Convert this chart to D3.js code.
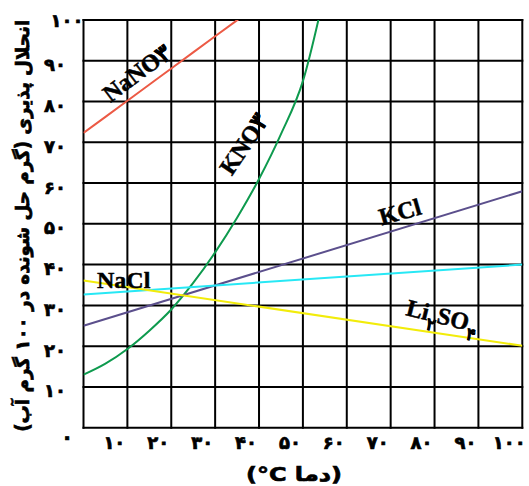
<!DOCTYPE html>
<html>
<head>
<meta charset="utf-8">
<script src="https://cdn.jsdelivr.net/npm/d3@7"></script>
<style>
  html, body { margin: 0; padding: 0; background: #fff; }
  svg { display: block; }
</style>
</head>
<body>
<script>
// DATA (temperature °C, grams per 100 g water)
const gridValues = [0, 10, 20, 30, 40, 50, 60, 70, 80, 90, 100];
const xTickLabels = ["۱۰", "۲۰", "۳۰", "۴۰", "۵۰", "۶۰", "۷۰", "۸۰", "۹۰", "۱۰۰"];
const yTickLabels = ["۱۰", "۲۰", "۳۰", "۴۰", "۵۰", "۶۰", "۷۰", "۸۰", "۹۰", "۱۰۰"];
const zeroLabel = "۰";

const nano3 = [[0, 72.3], [10, 80.2], [20, 88.1], [30, 96], [40, 103.9]];
const kno3 = [[0, 13], [5, 15.7], [10, 19.3], [15, 23.8], [20, 29], [25, 35.5], [30, 43],
              [35, 51.5], [40, 61], [45, 72], [50, 85], [55, 107]];
const kcl = [[0, 25], [100, 58]];
const nacl = [[0, 32.7], [100, 40]];
const li2so4 = [[0, 36.1], [100, 20.1]];

const yTitle = "انحلال پذیری (گرم حل شونده در ۱۰۰ گرم آب)";
const xTitle = "(دما C°)";

// SIZES
const svgwidth = 529;
const svgheight = 486;
const margin = { top: 20, right: 6.7, bottom: 58.3, left: 83.5 };
const graphwidth = svgwidth - margin.left - margin.right;
const graphheight = svgheight - margin.top - margin.bottom;

const svg = d3.select("body").append("svg")
    .attr("width", svgwidth)
    .attr("height", svgheight);

// SCALES
const X = d3.scaleLinear().domain([0, 100]).range([margin.left, margin.left + graphwidth]);
const Y = d3.scaleLinear().domain([0, 100]).range([margin.top + graphheight, margin.top]);

svg.append("clipPath").attr("id", "plot")
  .append("rect")
    .attr("x", X(0)).attr("y", Y(100))
    .attr("width", graphwidth).attr("height", graphheight);

// GRID
const grid = svg.append("g").attr("stroke", "#000").attr("stroke-width", 2);
grid.selectAll(".v").data(gridValues).enter().append("line")
    .attr("x1", d => X(d)).attr("x2", d => X(d))
    .attr("y1", Y(0) + 1).attr("y2", Y(100) - 1);
grid.selectAll(".h").data(gridValues).enter().append("line")
    .attr("y1", d => Y(d)).attr("y2", d => Y(d))
    .attr("x1", X(0) - 1).attr("x2", X(100) + 1);

// CURVES
const line = d3.line().x(d => X(d[0])).y(d => Y(d[1])).curve(d3.curveMonotoneX);
const series = [
  { data: nano3, color: "#ec5a45" },
  { data: kno3, color: "#0e9a4e" },
  { data: kcl, color: "#5b4f8c" },
  { data: nacl, color: "#27e8f5" },
  { data: li2so4, color: "#f2ec0a" }
];
svg.append("g").attr("clip-path", "url(#plot)")
  .selectAll("path").data(series).enter().append("path")
    .attr("d", d => line(d.data))
    .attr("fill", "none")
    .attr("stroke", d => d.color)
    .attr("stroke-width", 2);

// PERSIAN TEXT STYLE (made heavier with a thin stroke)
const faFont = "'DejaVu Sans', sans-serif";
const faText = sel => sel
    .attr("font-family", faFont).attr("font-weight", "bold")
    .attr("fill", "#000").attr("stroke", "#000").attr("stroke-width", 0.7);

// TICK LABELS
svg.append("g").call(faText).attr("font-size", 18)
  .selectAll("text").data(xTickLabels).enter().append("text")
    .attr("x", (d, i) => X(gridValues[i + 1]) - 13)
    .attr("y", Y(0) + 15)
    .attr("text-anchor", "middle")
    .attr("dominant-baseline", "central")
    .text(d => d);

svg.append("g").call(faText).attr("font-size", 18)
  .selectAll("text").data(yTickLabels).enter().append("text")
    .attr("x", (d, i) => i == 9 ? 67 : 55)
    .attr("y", (d, i) => Y(gridValues[i + 1]) + (i == 9 ? 0 : 4))
    .attr("text-anchor", "middle")
    .attr("dominant-baseline", "central")
    .text(d => d);

svg.append("text").call(faText).attr("font-size", 20)
    .attr("x", 67).attr("y", Y(0) + 9)
    .attr("text-anchor", "middle")
    .attr("dominant-baseline", "central")
    .text(zeroLabel);

// AXIS TITLES
svg.append("text").call(faText)
    .attr("transform", "translate(22," + (Y(50) + 2) + ") rotate(-90)")
    .attr("direction", "rtl")
    .attr("text-anchor", "middle")
    .attr("dominant-baseline", "central")
    .attr("font-size", 19)
    .attr("textLength", 412).attr("lengthAdjust", "spacingAndGlyphs")
    .text(yTitle);

svg.append("text").call(faText)
    .attr("x", 294).attr("y", 481)
    .attr("direction", "rtl")
    .attr("text-anchor", "middle")
    .attr("font-size", 20)
    .attr("textLength", 96).attr("lengthAdjust", "spacingAndGlyphs")
    .text(xTitle);

// SERIES LABELS
const labelFont = "'Liberation Serif', 'Times New Roman', serif";
const labels = svg.append("g")
    .attr("font-family", labelFont).attr("font-weight", "bold").attr("font-size", 24)
    .attr("fill", "#000").attr("stroke", "#000").attr("stroke-width", 0.5);

labels.append("text")
    .attr("transform", "translate(137,73) rotate(-37)")
    .attr("text-anchor", "middle").attr("dominant-baseline", "central")
    .text("NaNO۳");

labels.append("text")
    .attr("transform", "translate(244,144) rotate(-56)")
    .attr("text-anchor", "middle").attr("dominant-baseline", "central")
    .text("KNO۳");

labels.append("text")
    .attr("transform", "translate(400,212) rotate(-16)")
    .attr("text-anchor", "middle").attr("dominant-baseline", "central")
    .text("KCl");

labels.append("text")
    .attr("x", 97).attr("y", 288)
    .text("NaCl");

const li = labels.append("text")
    .attr("transform", "translate(405,315) rotate(14)");
li.append("tspan").text("Li");
li.append("tspan").attr("dy", 9).attr("font-size", 17).text("۲");
li.append("tspan").attr("dy", -9).text("SO");
li.append("tspan").attr("dy", 9).attr("font-size", 17).text("۴");
</script>
</body>
</html>
